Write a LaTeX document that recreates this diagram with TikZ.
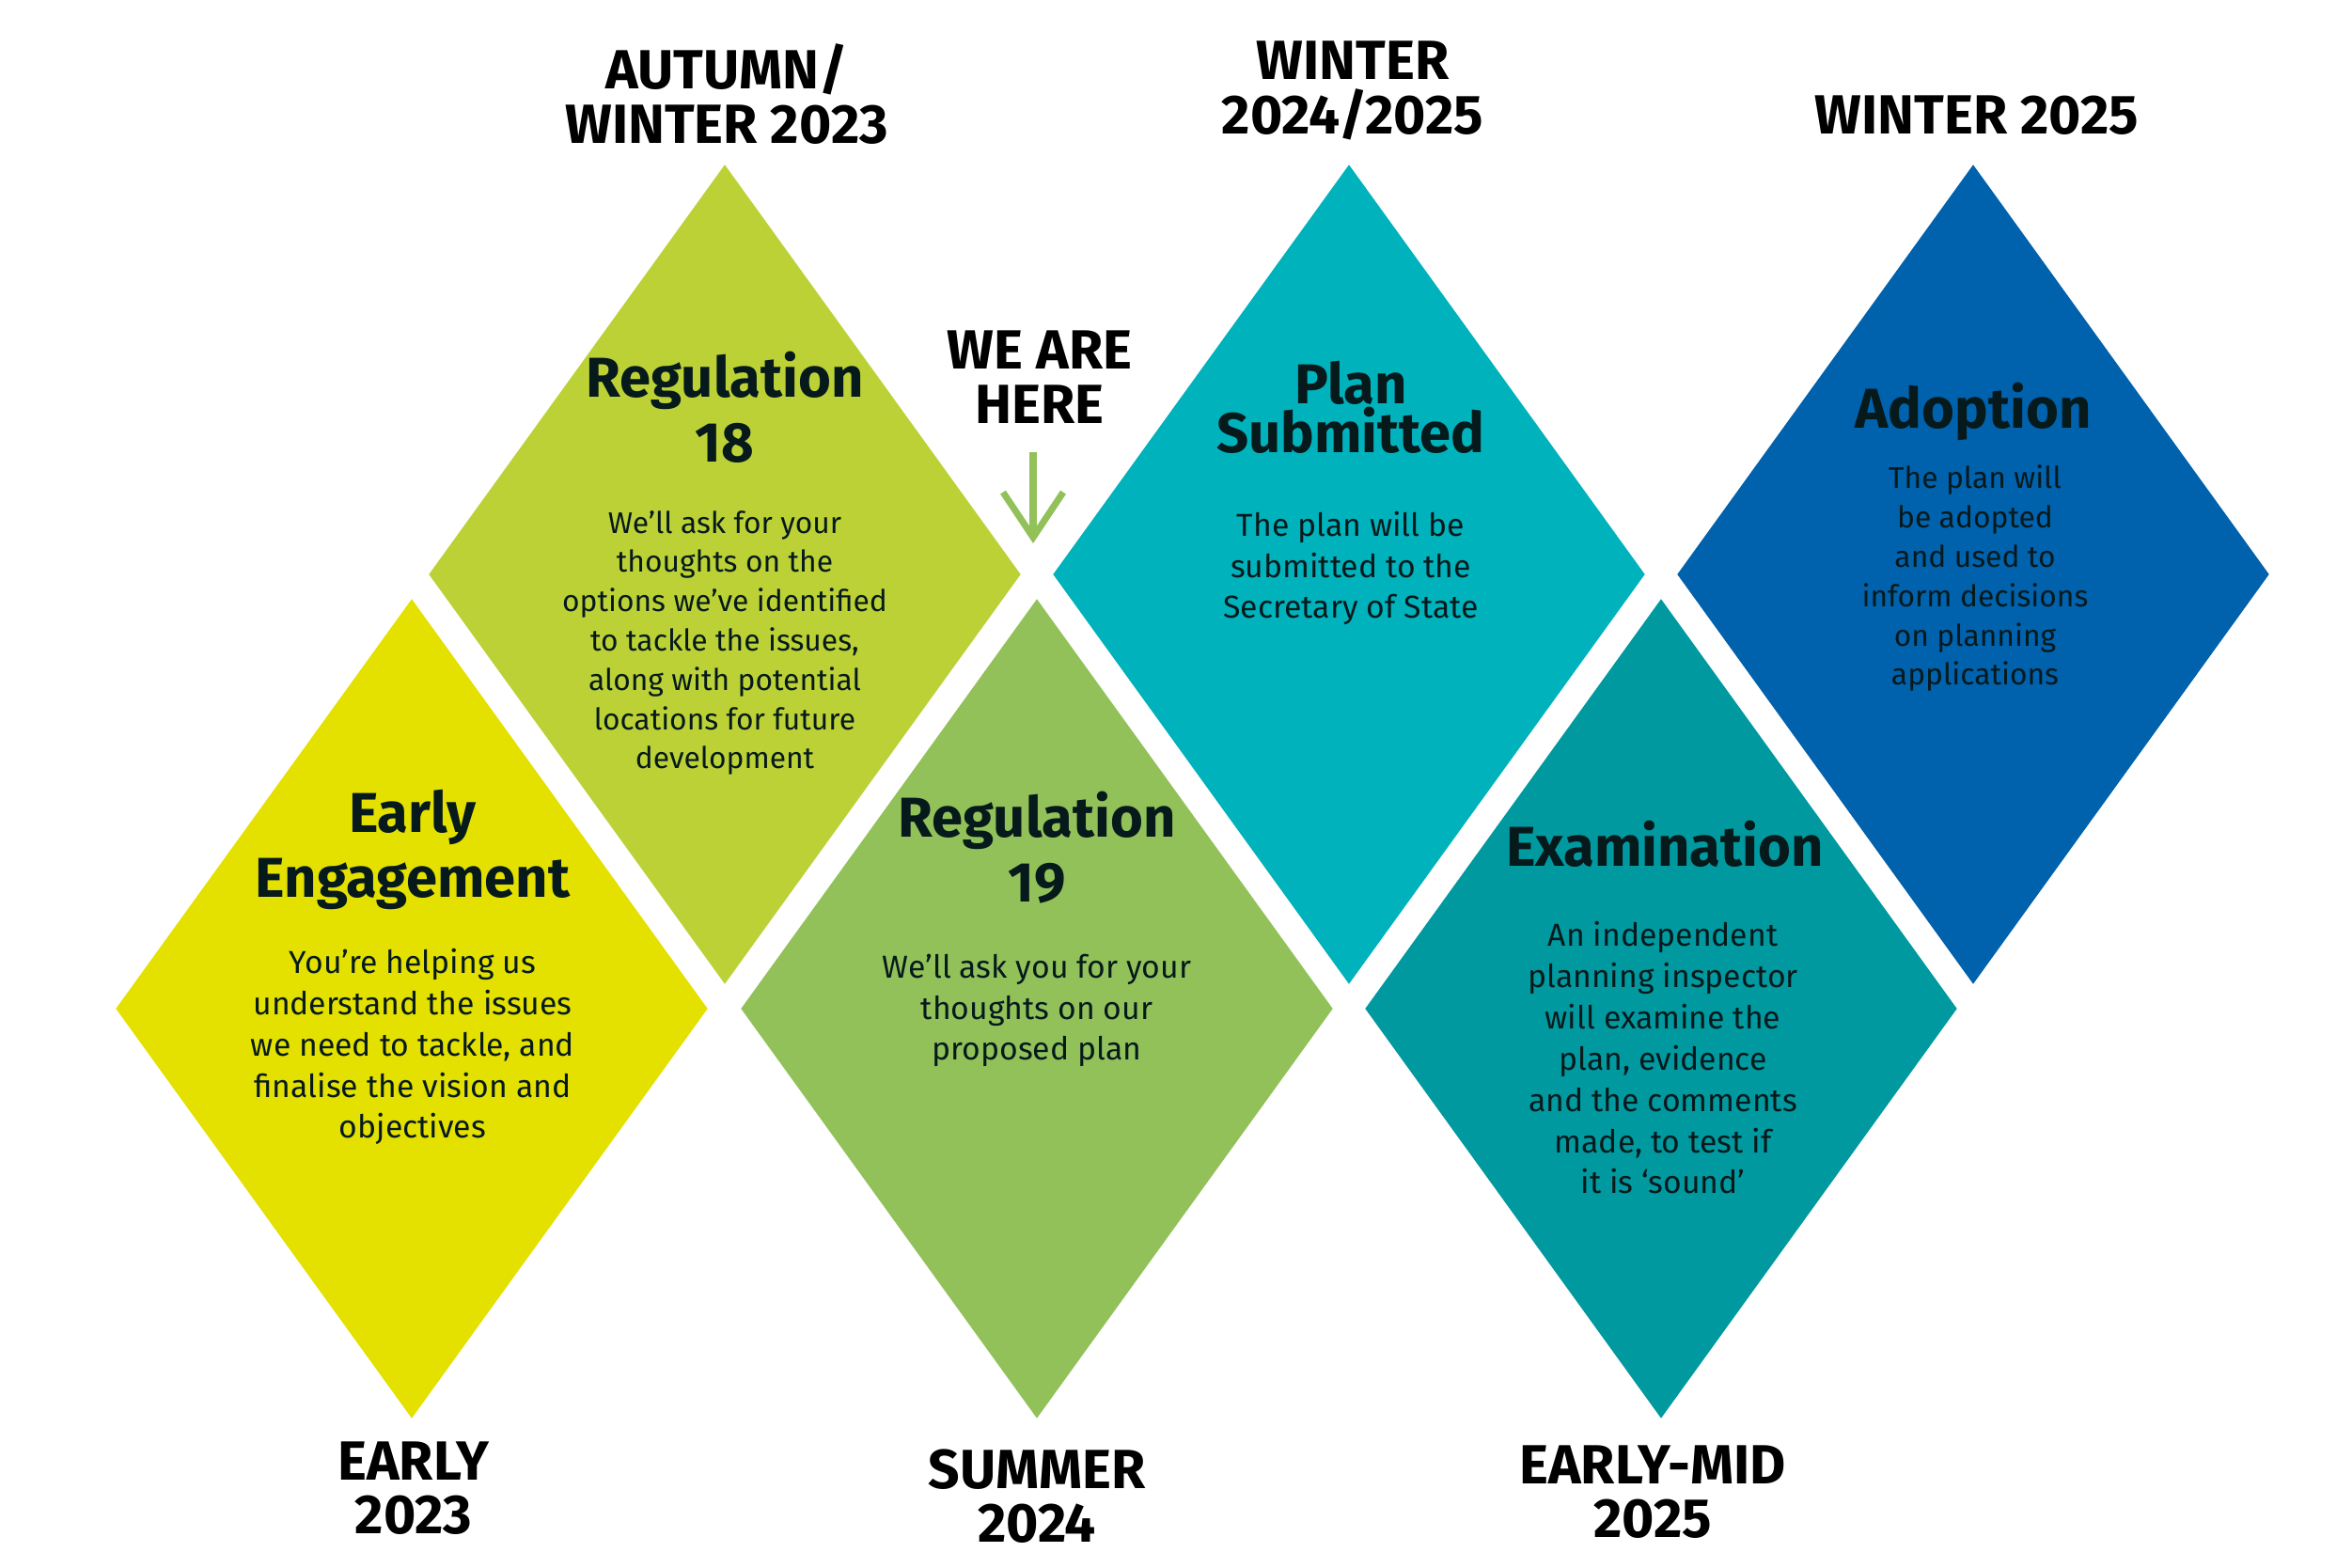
\documentclass[tikz,border=0pt]{standalone}
\usepackage{fontspec}
\setsansfont{Fira Sans}
\usepackage{tikz}
\usetikzlibrary{arrows.meta, shapes.geometric}
\definecolor{earlyyellow}{HTML}{E4E000}
\definecolor{regolive}{HTML}{BCD136}
\definecolor{reggreen}{HTML}{92C15A}
\definecolor{plancyan}{HTML}{00B2BC}
\definecolor{examteal}{HTML}{0099A0}
\definecolor{adoptblue}{HTML}{0061AD}
\definecolor{inkdark}{HTML}{061A1C}

\begin{document}
\begin{tikzpicture}[
    >={Straight Barb[length=4.8mm, width=6.4mm]},
    every node/.style={font=\sffamily},
    stage/.style={diamond, fill=#1, draw=none, minimum width=6.3cm,
                  minimum height=8.72cm, inner sep=0pt},
    heading/.style={anchor=base, align=center, text=inkdark,
                    font=\sffamily\bfseries\fontsize{17}{19.9}\selectfont},
    blurb/.style={anchor=base, align=center, text=inkdark,
                  font=\sffamily\fontsize{9.6}{12.5}\selectfont},
    smallblurb/.style={blurb, font=\sffamily\fontsize{9.05}{11.9}\selectfont},
    when/.style={anchor=base, align=center, text=black,
                 font=\sffamily\bfseries\fontsize{16.7}{16.5}\selectfont},
  ]
  \useasboundingbox (0,0) rectangle (25.02,16.68);

  % lower row
  \node[stage=earlyyellow] (early) at (4.38, 5.95) {};
  \node[stage=reggreen] (reg19) at (11.03, 5.95) {};
  \node[stage=examteal] (exam) at (17.67, 5.95) {};

  % upper row
  \node[stage=regolive] (reg18) at (7.71, 10.57) {};
  \node[stage=plancyan] (submit) at (14.35, 10.57) {};
  \node[stage=adoptblue] (adopt) at (20.99, 10.57) {};

  % Early engagement (base = last line)
  \node[heading] (earlyhead) at (4.39, 7.13) {Early\\Engagement};
  \node[blurb] (earlytext) at (4.39, 4.57) {You’re helping us\\understand the issues\\we need to tackle, and\\finalise the vision and\\objectives};
  \node[when] (earlywhen) at (4.40, 0.36) {EARLY\\2023};

  % Regulation 18
  \node[heading] (reg18head) at (7.71, 11.76) {Regulation\\18};
  \node[smallblurb] (reg18text) at (7.71, 8.50) {We’ll ask for your\\thoughts on the\\options we’ve identified\\to tackle the issues,\\along with potential\\locations for future\\development};
  \node[when] (reg18when) at (7.73, 15.15) {AUTUMN/\\WINTER 2023};

  % Regulation 19
  \node[heading] (reg19head) at (11.03, 7.08) {Regulation\\19};
  \node[blurb] (reg19text) at (11.03, 5.40) {We’ll ask you for your\\thoughts on our\\proposed plan};
  \node[when] (reg19when) at (11.03, 0.27) {SUMMER\\2024};

  % Plan submitted
  \node[heading, font=\sffamily\bfseries\fontsize{17}{14.8}\selectfont] (submithead) at (14.37, 11.86) {Plan\\Submitted};
  \node[blurb] (submittext) at (14.37, 10.10) {The plan will be\\submitted to the\\Secretary of State};
  \node[when] (submitwhen) at (14.39, 15.25) {WINTER\\2024/2025};

  % Examination
  \node[heading] (examhead) at (17.71, 7.46) {Examination};
  \node[blurb] (examtext) at (17.69, 3.98) {An independent\\planning inspector\\will examine the\\plan, evidence\\and the comments\\made, to test if\\it is ‘sound’};
  \node[when] (examwhen) at (17.58, 0.32) {EARLY-MID\\2025};

  % Adoption
  \node[heading] (adopthead) at (20.99, 12.12) {Adoption};
  \node[smallblurb] (adopttext) at (21.01, 9.39) {The plan will\\be adopted\\and used to\\inform decisions\\on planning\\applications};
  \node[when] (adoptwhen) at (21.03, 15.25) {WINTER 2025};

  % current position marker
  \node[when] (here) at (11.06, 12.17) {WE ARE\\HERE};
  \coordinate (herestart) at (10.99, 11.87);
  \coordinate (heretip) at (10.99, 10.90);
  \draw[->, reggreen, line width=2pt] (herestart) -- (heretip);
\end{tikzpicture}
\end{document}
